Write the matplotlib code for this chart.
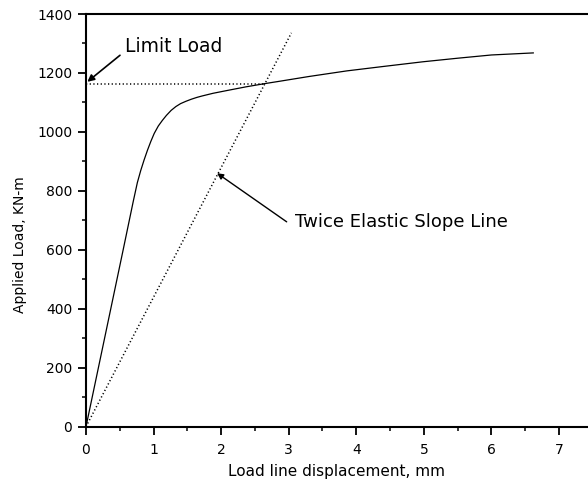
import matplotlib
matplotlib.use("Agg")
import matplotlib.pyplot as plt
from matplotlib.ticker import MultipleLocator

# Load-displacement curve
disp = [0, 0.55, 0.70, 0.76, 0.81, 0.86, 0.91, 0.96, 1.01, 1.07, 1.13, 1.19,
        1.26, 1.33, 1.40, 1.48, 1.56, 1.64, 1.72, 1.88, 2.10, 2.37, 2.65,
        2.87, 3.30, 3.86, 4.40, 4.99, 5.50, 6.00, 6.62]
load = [0, 600, 765, 828, 869, 905, 938, 968, 995, 1020, 1039, 1056,
        1073, 1086, 1096, 1104, 1111, 1117, 1122, 1131, 1141, 1153, 1164,
        1172, 1188, 1207, 1222, 1238, 1250, 1261, 1268]

# Twice elastic slope line
tes_x = [0, 3.04]
tes_y = [0, 1336]

# Limit load line
limit_x = [0, 2.65]
limit_y = [1162, 1162]

x_ticks = [0, 1, 2, 3, 4, 5, 6, 7]
y_ticks = [0, 200, 400, 600, 800, 1000, 1200, 1400]

fig = plt.figure(figsize=(5.88, 4.87), dpi=100)
ax = fig.add_axes([86/588, 60.3/487, 502/588, 412.7/487])

ax.plot(disp, load, color='black', lw=0.9)
ax.plot(tes_x, tes_y, color='black', lw=1.1, linestyle=(0, (0.8, 1.6)))
ax.plot(limit_x, limit_y, color='black', lw=1.1, linestyle=(0, (0.8, 1.6)))

ax.set_xlim(0, 7.43)
ax.set_ylim(0, 1400)
ax.set_xticks(x_ticks)
ax.set_yticks(y_ticks)
ax.xaxis.set_minor_locator(MultipleLocator(0.5))
ax.yaxis.set_minor_locator(MultipleLocator(100))

for s in ['left', 'bottom', 'top']:
    ax.spines[s].set_linewidth(1.5)
ax.spines['right'].set_visible(False)

ax.tick_params(axis='both', which='major', direction='out', length=5.5, width=1.3,
               labelsize=10)
ax.tick_params(axis='both', which='minor', direction='out', length=2.8, width=1.1)
ax.tick_params(axis='x', which='major', pad=6)
ax.tick_params(axis='y', which='major', pad=4.5)
ax.tick_params(top=False, right=False, which='both')

ax.set_xlabel('Load line displacement, mm', fontsize=11)
ax.set_ylabel('Applied Load, KN-m', fontsize=10)
ax.xaxis.set_label_coords(0.5, -0.109)
ax.xaxis.label.set_va('center')
ax.yaxis.set_label_coords(-0.1315, 0.44)
ax.yaxis.label.set_va('center')

ax.text(0.577, 1272, 'Limit Load', fontsize=13.5, ha='left', va='baseline')
ax.annotate('', xy=(0.02, 1170), xytext=(0.503, 1260),
            arrowprops=dict(arrowstyle='-|>', color='black', lw=1.2,
                            mutation_scale=10, shrinkA=0, shrinkB=0))

ax.text(3.09, 676, 'Twice Elastic Slope Line', fontsize=13, ha='left', va='baseline')
ax.annotate('', xy=(1.94, 860), xytext=(2.97, 695),
            arrowprops=dict(arrowstyle='-|>', color='black', lw=1.0,
                            mutation_scale=9, shrinkA=0, shrinkB=0))

fig.savefig('out.png', dpi=100)
